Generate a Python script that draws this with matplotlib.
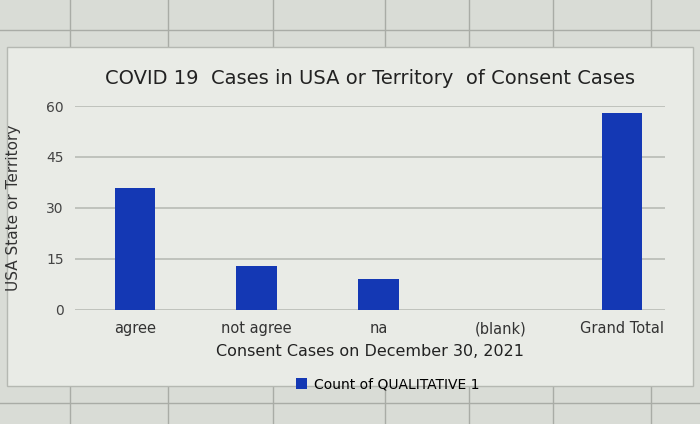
import matplotlib.pyplot as plt

categorias = ['agree', 'not agree', 'na', '(blank)', 'Grand Total']
conteos = [36, 13, 9, 0, 58]
ticks_y = [0, 15, 30, 45, 60]

fig = plt.figure(figsize=(7, 4.24), dpi=100)
fig.patch.set_facecolor('#d9dcd6')

# lineas de celdas de la hoja de calculo
for y in [0.93, 0.05]:
    fig.add_artist(plt.Line2D([0, 1], [y, y], color='#a9aca6', linewidth=1, zorder=-3))
for x in [0.10, 0.24, 0.39, 0.55, 0.67, 0.79, 0.93]:
    fig.add_artist(plt.Line2D([x, x], [0.89, 1], color='#a9aca6', linewidth=1, zorder=-3))
    fig.add_artist(plt.Line2D([x, x], [0, 0.09], color='#a9aca6', linewidth=1, zorder=-3))

# area del grafico (fondo claro)
fondo = plt.Rectangle((0.01, 0.09), 0.98, 0.80, transform=fig.transFigure,
                      facecolor='#e9ebe6', edgecolor='#b5b8b2', linewidth=1, zorder=-2)
fig.add_artist(fondo)

ax = fig.add_axes([0.107, 0.269, 0.843, 0.481])
ax.set_facecolor('#e9ebe6')
ax.bar(range(len(categorias)), conteos, width=0.33, color='#1438b4', zorder=3,
       label='Count of QUALITATIVE 1')

ax.set_xlim(-0.49, 4.35)
ax.set_ylim(0, 60)
ax.set_yticks(ticks_y)
ax.set_yticklabels([str(t) for t in ticks_y], color='#444444', fontsize=10)
ax.set_xticks(range(len(categorias)))
ax.set_xticklabels(categorias, color='#333333', fontsize=10.5)
ax.tick_params(length=0, pad=8)
ax.grid(True, axis='y', color='#b8bbb5', linewidth=1.2, zorder=1)
for s in ax.spines.values():
    s.set_visible(False)

ax.set_title('COVID 19  Cases in USA or Territory  of Consent Cases', fontsize=14,
             color='#222222', pad=16)
ax.set_xlabel('Consent Cases on December 30, 2021', fontsize=11.5, color='#222222', labelpad=6)
ax.set_ylabel('USA State or Territory', fontsize=11, color='#333333', labelpad=18)
ax.legend(loc='upper center', bbox_to_anchor=(0.53, -0.27), frameon=False,
          fontsize=10, handlelength=0.8, handleheight=0.8, handletextpad=0.5)

fig.savefig('out.png', dpi=100, facecolor=fig.get_facecolor())
